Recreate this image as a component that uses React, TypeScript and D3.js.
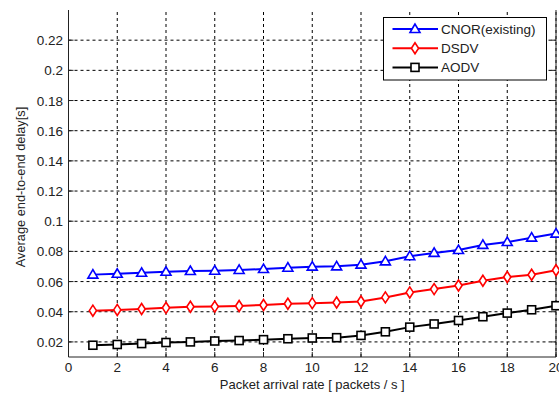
import React from "react";
import * as d3 from "d3";

const xValues = [1,2,3,4,5,6,7,8,9,10,11,12,13,14,15,16,17,18,19,20];
const cnor = [0.0646,0.0652,0.0658,0.0665,0.067,0.0672,0.0677,0.0683,0.0692,0.0699,0.0701,0.0712,0.0734,0.0768,0.079,0.0809,0.0843,0.0862,0.0891,0.0918];
const dsdv = [0.0407,0.0412,0.0418,0.0426,0.0433,0.0434,0.0438,0.0445,0.0453,0.0457,0.0461,0.0468,0.0495,0.0528,0.055,0.0574,0.0605,0.063,0.0645,0.0675];
const aodv = [0.0178,0.0183,0.0189,0.0196,0.02,0.0206,0.0209,0.0215,0.0221,0.0226,0.0228,0.0243,0.0267,0.0298,0.0319,0.0342,0.0367,0.0391,0.0413,0.044];
const xTicks = [0,2,4,6,8,10,12,14,16,18,20];
const yTicks = [0.02,0.04,0.06,0.08,0.1,0.12,0.14,0.16,0.18,0.2,0.22];
const seriesNames = ["CNOR(existing)", "DSDV", "AODV"];
const seriesColors = ["#0000ff", "#ff0000", "#000000"];
const seriesMarkers = ["triangle", "diamond", "square"];

const FONT = "Arial, 'Liberation Sans', sans-serif";

function Marker({ type, x, y, color }: { type: string; x: number; y: number; color: string }) {
  if (type === "triangle") {
    const s = 5;
    return <polygon points={`${x},${y - s} ${x - s},${y + s * 0.7} ${x + s},${y + s * 0.7}`} fill="white" stroke={color} strokeWidth={1.6} />;
  }
  if (type === "diamond") {
    return <polygon points={`${x},${y - 5.5} ${x - 3.6},${y} ${x},${y + 5.5} ${x + 3.6},${y}`} fill="white" stroke={color} strokeWidth={1.6} />;
  }
  return <rect x={x - 4} y={y - 4} width={8} height={8} fill="white" stroke={color} strokeWidth={1.6} />;
}

export default function App() {
  const W = 559, H = 394;
  const left = 68.5, right = 556, top = 10, bottom = 357;
  const x = d3.scaleLinear().domain([0, 20]).range([left, right]);
  const y = d3.scaleLinear().domain([0.01, 0.24]).range([bottom, top]);
  const series = [cnor, dsdv, aodv];
  const line = d3.line<number>().x((_, i) => x(xValues[i])).y((d) => y(d));

  return (
    <svg width={W} height={H} style={{ position: "absolute", left: 0, top: 0, background: "white" }} fontFamily={FONT}>
      <rect x={0} y={0} width={W} height={H} fill="white" />
      {/* grid */}
      {xTicks.slice(1).map((t) => (
        <line key={"gx" + t} x1={x(t)} x2={x(t)} y1={bottom} y2={top} stroke="#000" strokeWidth={1} strokeDasharray="3,3" />
      ))}
      {yTicks.map((t) => (
        <line key={"gy" + t} x1={left} x2={right} y1={y(t)} y2={y(t)} stroke="#000" strokeWidth={1} strokeDasharray="3,3" />
      ))}
      {/* axes */}
      <line x1={left} x2={left} y1={top} y2={bottom} stroke="#222" strokeWidth={1} />
      <line x1={left} x2={right} y1={bottom} y2={bottom} stroke="#222" strokeWidth={1} />
      <line x1={right} x2={right} y1={top} y2={bottom} stroke="#222" strokeWidth={1} />
      {xTicks.map((t) => (
        <line key={"tx" + t} x1={x(t)} x2={x(t)} y1={bottom} y2={bottom - 5} stroke="#222" />
      ))}
      {yTicks.map((t) => (
        <g key={"ty" + t}>
          <line x1={left} x2={left + 5} y1={y(t)} y2={y(t)} stroke="#222" />
          <line x1={right} x2={right - 5} y1={y(t)} y2={y(t)} stroke="#222" />
        </g>
      ))}
      {/* tick labels */}
      {xTicks.map((t) => (
        <text key={"lx" + t} x={x(t)} y={372} textAnchor="middle" fontSize={13.5} fill="#222">{t}</text>
      ))}
      {yTicks.map((t) => (
        <text key={"ly" + t} x={63} y={y(t) + 5} textAnchor="end" fontSize={13.5} fill="#222">{String(+t.toFixed(2))}</text>
      ))}
      {/* axis labels */}
      <text x={x(10)} y={389} textAnchor="middle" fontSize={13} fill="#222">Packet arrival rate [ packets / s ]</text>
      <text transform={`translate(24.5,187) rotate(-90)`} textAnchor="middle" fontSize={12.8} fill="#222">Average end-to-end delay[s]</text>
      {/* series */}
      {series.map((s, k) => (
        <g key={"s" + k}>
          <path d={line(s) || ""} fill="none" stroke={seriesColors[k]} strokeWidth={2} />
          {s.map((v, i) => (
            <Marker key={i} type={seriesMarkers[k]} x={x(xValues[i])} y={y(v)} color={seriesColors[k]} />
          ))}
        </g>
      ))}
      {/* legend */}
      <rect x={383.5} y={17.5} width={163} height={62.5} fill="white" stroke="#000" strokeWidth={1} />
      {seriesNames.map((n, k) => {
        const ly = 29 + k * 19.2;
        return (
          <g key={"lg" + k}>
            <line x1={392.5} x2={438} y1={ly} y2={ly} stroke={seriesColors[k]} strokeWidth={2} />
            <Marker type={seriesMarkers[k]} x={415} y={ly} color={seriesColors[k]} />
            <text x={441} y={ly + 5} fontSize={13.5} fill="#222">{n}</text>
          </g>
        );
      })}
    </svg>
  );
}
